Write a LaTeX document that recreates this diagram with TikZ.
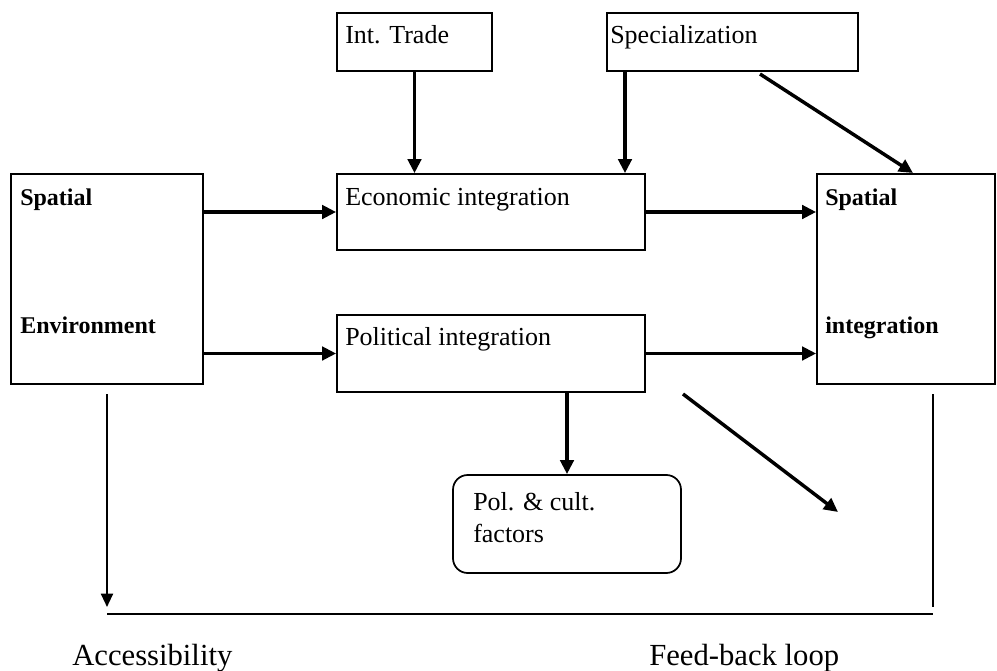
\documentclass[tikz,border=0pt]{standalone}
\usepackage{fontspec}
\setmainfont{Liberation Serif}
\usetikzlibrary{arrows.meta,fit}
\begin{document}
\begin{tikzpicture}[x=0.75pt,y=-0.75pt,
  box/.style={draw,line width=1.3pt,inner sep=0pt},
  cbox/.style={draw,line width=1.3pt,inner sep=0pt,rounded corners=11pt},
  lbl/.style={anchor=base west,inner sep=0pt,font=\fontsize{19.5}{22}\selectfont},
  blbl/.style={anchor=base west,inner sep=0pt,font=\fontsize{18}{22}\selectfont\bfseries},
  biglbl/.style={anchor=base west,inner sep=0pt,font=\fontsize{23}{26}\selectfont},
  arr/.style={line width=2.6pt,-{Triangle[length=10.5pt,width=10pt]}},
  thinarr/.style={line width=1.5pt,-{Triangle[length=10pt,width=9pt]}},
  thinline/.style={line width=1.5pt}]
\useasboundingbox (0,0) rectangle (997,671);
% boxes
\node[box,fit={(337,13) (492,71)}] (trade) {};
\node[box,fit={(607,13) (858,71)}] (spec) {};
\node[box,fit={(11,174) (203,384)}] (env) {};
\node[box,fit={(337,174) (645,250)}] (econ) {};
\node[box,fit={(337,315) (645,392)}] (pol) {};
\node[box,fit={(817,174) (995,384)}] (sint) {};
\node[cbox,fit={(453,475) (681,573)}] (pcf) {};
% texts
\node[lbl] (ttrade) at (345,43) {Int. Trade};
\node[lbl] (tspec) at (610,43) {Specialization};
\node[blbl] (tenv1) at (20,205) {Spatial};
\node[blbl] (tenv2) at (20,333) {Environment};
\node[lbl] (tecon) at (345,205) {Economic integration};
\node[lbl] (tpol) at (345,345) {Political integration};
\node[blbl] (tsint1) at (825,205) {Spatial};
\node[blbl] (tsint2) at (825,333) {integration};
\node[lbl] (tpcf1) at (473,510) {Pol. \& cult.};
\node[lbl] (tpcf2) at (473,542) {factors};
\node[biglbl] (tacc) at (72,665) {Accessibility};
\node[biglbl] (tfb) at (649,665) {Feed-back loop};
% coordinates
\coordinate (s1) at (625,71);
\coordinate (d1s) at (760,74);
\coordinate (d1e) at (913,173);
\coordinate (d2s) at (683,394);
\coordinate (d2e) at (838,512);
\coordinate (a1) at (107,394);
\coordinate (a2) at (107,607);
\coordinate (h1) at (107,614);
\coordinate (h2) at (933,614);
\coordinate (r1) at (933,394);
\coordinate (r2) at (933,607);
% connectors
\draw[arr] (trade.south) -- (trade.south |- econ.north);
\draw[arr] (s1) -- (s1 |- econ.north);
\draw[arr] (d1s) -- (d1e);
\draw[arr] (econ.west -| env.east) -- (econ.west);
\draw[arr] (pol.west -| env.east) -- (pol.west);
\draw[arr] (econ.east) -- (econ.east -| sint.west);
\draw[arr] (pol.east) -- (pol.east -| sint.west);
\draw[arr] (pcf.north |- pol.south) -- (pcf.north);
\draw[arr] (d2s) -- (d2e);
\draw[thinarr] (a1) -- (a2);
\draw[thinline] (h1) -- (h2);
\draw[thinline] (r1) -- (r2);
\end{tikzpicture}
\end{document}
